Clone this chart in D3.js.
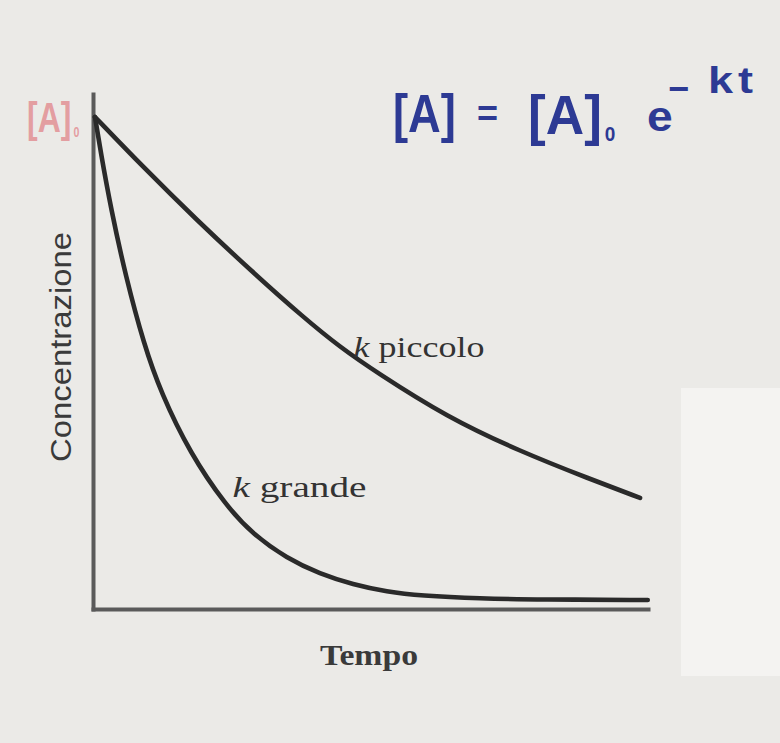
<!DOCTYPE html>
<html>
<head>
<meta charset="utf-8">
<script src="https://cdn.jsdelivr.net/npm/d3@7"></script>
<style>
  html, body { margin: 0; padding: 0; background: #ebeae7; }
  svg { display: block; }
</style>
</head>
<body>
<script>
// First-order decay: concentration of A versus time for a small and a large rate constant
const timeSmallK = [0, 0.88, 1.85, 2.84, 3.80, 4.45, 5.11, 6.40, 7.71, 9.00, 9.91];
const concSmallK = [1.0, 0.896, 0.787, 0.682, 0.585, 0.525, 0.473, 0.380, 0.310, 0.252, 0.213];

const timeLargeK = [0, 0.10, 0.29, 0.56, 0.89, 1.20, 1.73, 2.38, 2.87, 3.49, 4.09, 4.69, 5.31, 5.91, 7.00, 8.09, 10.05];
const concLargeK = [1.0, 0.930, 0.810, 0.670, 0.530, 0.430, 0.305, 0.197, 0.138, 0.088, 0.056, 0.034, 0.019, 0.011, 0.005, 0.003, 0.002];

const curveLabels = ["k piccolo", "k grande"];
const axisTitles = { x: "Tempo", y: "Concentrazione" };

const W = 780, H = 743;
const svg = d3.select("body").append("svg").attr("width", W).attr("height", H);

// background and the lighter paper patch on the right
svg.append("rect").attr("width", W).attr("height", H).attr("fill", "#ebeae7");
svg.append("rect").attr("x", 681).attr("y", 388).attr("width", 99).attr("height", 288).attr("fill", "#f4f3f1");

const x = d3.scaleLinear().domain([0, 10]).range([95, 645]);
const y = d3.scaleLinear().domain([0, 1]).range([601, 117]);

const axisY = 609, axisX = 93;

// axes: plain lines, no ticks
const xAxis = d3.axisBottom(d3.scaleLinear().domain([0, 1]).range([axisX, 648])).tickValues([]).tickSizeOuter(0);
const yAxis = d3.axisLeft(d3.scaleLinear().domain([0, 1]).range([axisY, 94])).tickValues([]).tickSizeOuter(0);

const gx = svg.append("g").attr("transform", `translate(0,${axisY})`).call(xAxis);
const gy = svg.append("g").attr("transform", `translate(${axisX},0)`).call(yAxis);
[gx, gy].forEach(g => g.select(".domain").attr("stroke", "#5a5a5a").attr("stroke-width", 4).attr("stroke-linecap", "square"));

const line = d3.line().x(d => x(d[0])).y(d => y(d[1])).curve(d3.curveBasis);

const series = [
  d3.zip(timeSmallK, concSmallK),
  d3.zip(timeLargeK, concLargeK)
];

svg.selectAll("path.decay").data(series).join("path")
  .attr("class", "decay")
  .attr("d", line)
  .attr("fill", "none")
  .attr("stroke", "#2a2a2a")
  .attr("stroke-width", 4.6)
  .attr("stroke-linecap", "round");

// curve labels with italic k
const labelPos = [[4.7, 0.505], [2.5, 0.215]];
const labelLen = [131, 134];
curveLabels.forEach((lbl, i) => {
  const t = svg.append("text")
    .attr("x", x(labelPos[i][0]))
    .attr("y", y(labelPos[i][1]))
    .attr("font-family", "Liberation Serif, serif")
    .attr("font-size", 30)
    .attr("textLength", labelLen[i])
    .attr("lengthAdjust", "spacingAndGlyphs")
    .attr("fill", "#333");
  t.append("tspan").attr("font-style", "italic").text(lbl.slice(0, 1));
  t.append("tspan").text(lbl.slice(1));
});

// axis titles
svg.append("text")
  .attr("x", 320).attr("y", 665)
  .attr("font-family", "Liberation Serif, serif")
  .attr("font-size", 30)
  .attr("font-weight", "bold")
  .attr("textLength", 98)
  .attr("lengthAdjust", "spacingAndGlyphs")
  .attr("fill", "#3a3a3a")
  .text(axisTitles.x);

svg.append("text")
  .attr("transform", "translate(71,347) rotate(-90)")
  .attr("text-anchor", "middle")
  .attr("font-family", "Liberation Sans, sans-serif")
  .attr("font-size", 29)
  .attr("textLength", 230)
  .attr("lengthAdjust", "spacingAndGlyphs")
  .attr("fill", "#3a3a3a")
  .text(axisTitles.y);

// handwritten-style annotations, narrowed horizontally by sx
function note(px, py, size, sx, color) {
  return svg.append("text")
    .attr("transform", `translate(${px},${py}) scale(${sx},1)`)
    .attr("font-family", "Liberation Sans, sans-serif")
    .attr("font-weight", "bold")
    .attr("font-size", size)
    .attr("fill", color);
}

// [A] with a subscript zero
function concSymbol(px, py, size, subSize, sx, color) {
  const t = note(px, py, size, sx, color);
  t.append("tspan").text("[A]");
  t.append("tspan").attr("font-size", subSize).attr("dx", 3).attr("dy", size * 0.13).text("0");
  return t;
}

// initial concentration marker
concSymbol(27, 132, 42, 14, 0.76, "#e2898e").attr("fill-opacity", 0.8);

// rate law written in blue
const blue = "#2d3a94";
note(393, 132, 54, 0.84, blue).text("[A]");
note(477, 126, 36, 1, blue).text("=");
concSymbol(528, 134, 56, 20, 0.95, blue);
note(647, 131, 42, 1.1, blue).text("e");
note(668, 101, 36, 1, blue).text("\u2212");
const sup = note(708, 93, 36, 1.25, blue);
sup.append("tspan").text("k");
sup.append("tspan").attr("dx", 4).text("t");
</script>
</body>
</html>
